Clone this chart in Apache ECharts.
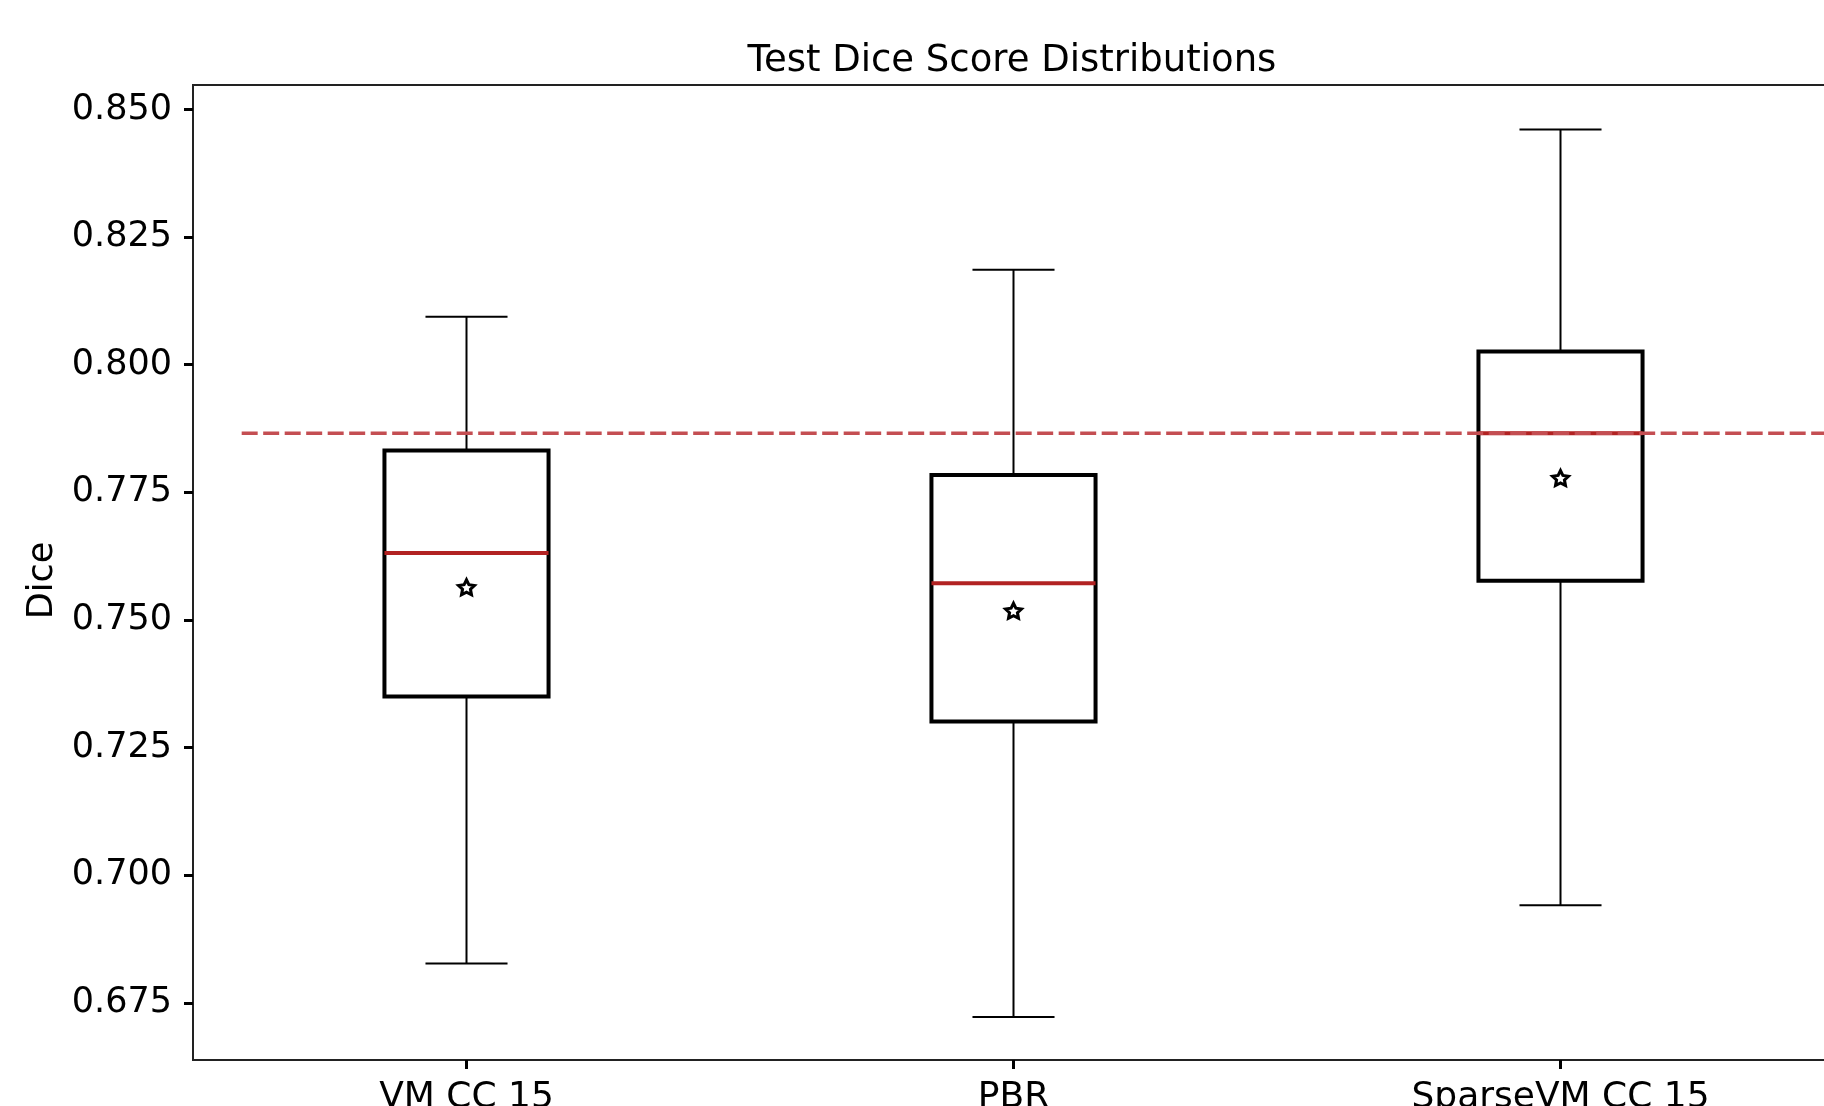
<!DOCTYPE html>
<html><head><meta charset="utf-8">
<script src="https://cdn.jsdelivr.net/npm/echarts@6/dist/echarts.min.js"></script>
<style>html,body{margin:0;padding:0;background:#fff;} #chart{width:1824px;height:1106px;}</style>
</head><body><div id="chart"></div>
<script>
// ---- data ----
const categories = ['VM CC 15', 'PBR', 'SparseVM CC 15'];
const whiskerLow  = [0.6827, 0.6722, 0.6941];
const q1Values    = [0.7350, 0.7301, 0.7577];
const medians     = [0.7631, 0.7572, 0.7866];
const q3Values    = [0.7832, 0.7784, 0.8026];
const whiskerHigh = [0.8094, 0.8186, 0.8461];
const means       = [0.7564, 0.7518, 0.7778];
const referenceValue = 0.7866;
const referenceStart = 0.589;   // in box-position units (boxes at 1,2,3)
const yTicks = [0.675, 0.700, 0.725, 0.750, 0.775, 0.800, 0.825, 0.850];
const yMin = 0.6638, yMax = 0.8548;

const FONT = 'DejaVu Sans';
const boxData = categories.map((c, i) => [i, whiskerLow[i], q1Values[i], medians[i], q3Values[i], whiskerHigh[i]]);
const meanData = categories.map((c, i) => [i, means[i]]);
const refData = [[referenceStart, referenceValue], [3.5, referenceValue]];

const STAR = 'path://M0,-10 L2.9,-4 L9.5,-3.1 L4.7,1.5 L5.9,8.1 L0,5 L-5.9,8.1 L-4.7,1.5 L-9.5,-3.1 L-2.9,-4 Z';

const chart = echarts.init(document.getElementById('chart'), null, {renderer: 'canvas'});
chart.setOption({
  animation: false,
  backgroundColor: '#fff',
  textStyle: {fontFamily: FONT},
  title: {
    text: 'Test Dice Score Distributions',
    left: 1007, top: 38, textAlign: 'center',
    textStyle: {fontFamily: FONT, fontSize: 37, fontWeight: 'normal', color: '#000'}
  },
  grid: {
    left: 193, top: 85, right: -10, bottom: 46,
    show: true, borderColor: '#222', borderWidth: 2, backgroundColor: 'transparent',
    containLabel: false, outerBoundsMode: 'none'
  },
  xAxis: [{
    type: 'category', data: categories, boundaryGap: true,
    axisLine: {show: true, lineStyle: {color: '#222', width: 2}},
    axisTick: {show: true, alignWithLabel: true, length: 9, lineStyle: {color: '#000', width: 3}},
    axisLabel: {fontFamily: FONT, fontSize: 36, color: '#000', margin: 20, interval: 0},
    splitLine: {show: false}
  }, {
    type: 'value', min: 0.5, max: 3.5, show: false, gridIndex: 0
  }],
  yAxis: {
    type: 'value', min: yMin, max: yMax,
    name: 'Dice', nameLocation: 'middle', nameGap: 132,
    nameTextStyle: {fontFamily: FONT, fontSize: 35, color: '#000', padding: [0, 16, 0, 0]},
    axisLine: {show: true, lineStyle: {color: '#222', width: 2}},
    axisTick: {show: true, length: 9, customValues: yTicks, lineStyle: {color: '#000', width: 3}},
    axisLabel: {fontFamily: FONT, fontSize: 35, color: '#000', margin: 21, customValues: yTicks,
      padding: [5, 0, 0, 0],
      formatter: v => Number(v).toFixed(3)},
    splitLine: {show: false}
  },
  series: [{
    type: 'custom',
    xAxisIndex: 0,
    data: boxData,
    encode: {x: 0, y: [1, 2, 3, 4, 5]},
    z: 2,
    renderItem: function (params, api) {
      const idx = api.value(0);
      const lo = api.coord([idx, api.value(1)]);
      const q1 = api.coord([idx, api.value(2)]);
      const md = api.coord([idx, api.value(3)]);
      const q3 = api.coord([idx, api.value(4)]);
      const hi = api.coord([idx, api.value(5)]);
      const band = api.size([1, 0])[0];
      const bw = band * 0.3;
      const cw = bw / 2;
      const x = lo[0];
      const thin = {stroke: '#000', lineWidth: 2};
      return {
        type: 'group',
        children: [
          {type: 'line', shape: {x1: x, y1: q1[1], x2: x, y2: lo[1]}, style: thin},
          {type: 'line', shape: {x1: x, y1: q3[1], x2: x, y2: hi[1]}, style: thin},
          {type: 'line', shape: {x1: x - cw / 2, y1: lo[1], x2: x + cw / 2, y2: lo[1]}, style: thin},
          {type: 'line', shape: {x1: x - cw / 2, y1: hi[1], x2: x + cw / 2, y2: hi[1]}, style: thin},
          {type: 'rect', shape: {x: x - bw / 2, y: q3[1], width: bw, height: q1[1] - q3[1]},
            style: {fill: 'none', stroke: '#000', lineWidth: 4}},
          {type: 'line', shape: {x1: x - bw / 2, y1: md[1], x2: x + bw / 2, y2: md[1]},
            style: {stroke: '#b22222', lineWidth: 4}}
        ]
      };
    }
  }, {
    type: 'line',
    xAxisIndex: 1,
    data: refData,
    symbol: 'none',
    z: 3,
    lineStyle: {color: '#c44e52', width: 3.5, type: [16, 5.5]}
  }, {
    type: 'scatter',
    xAxisIndex: 0,
    data: meanData,
    symbol: STAR,
    symbolSize: [16, 15],
    z: 4,
    itemStyle: {color: '#fff', borderColor: '#000', borderWidth: 3, opacity: 1}
  }]
});
</script></body></html>
